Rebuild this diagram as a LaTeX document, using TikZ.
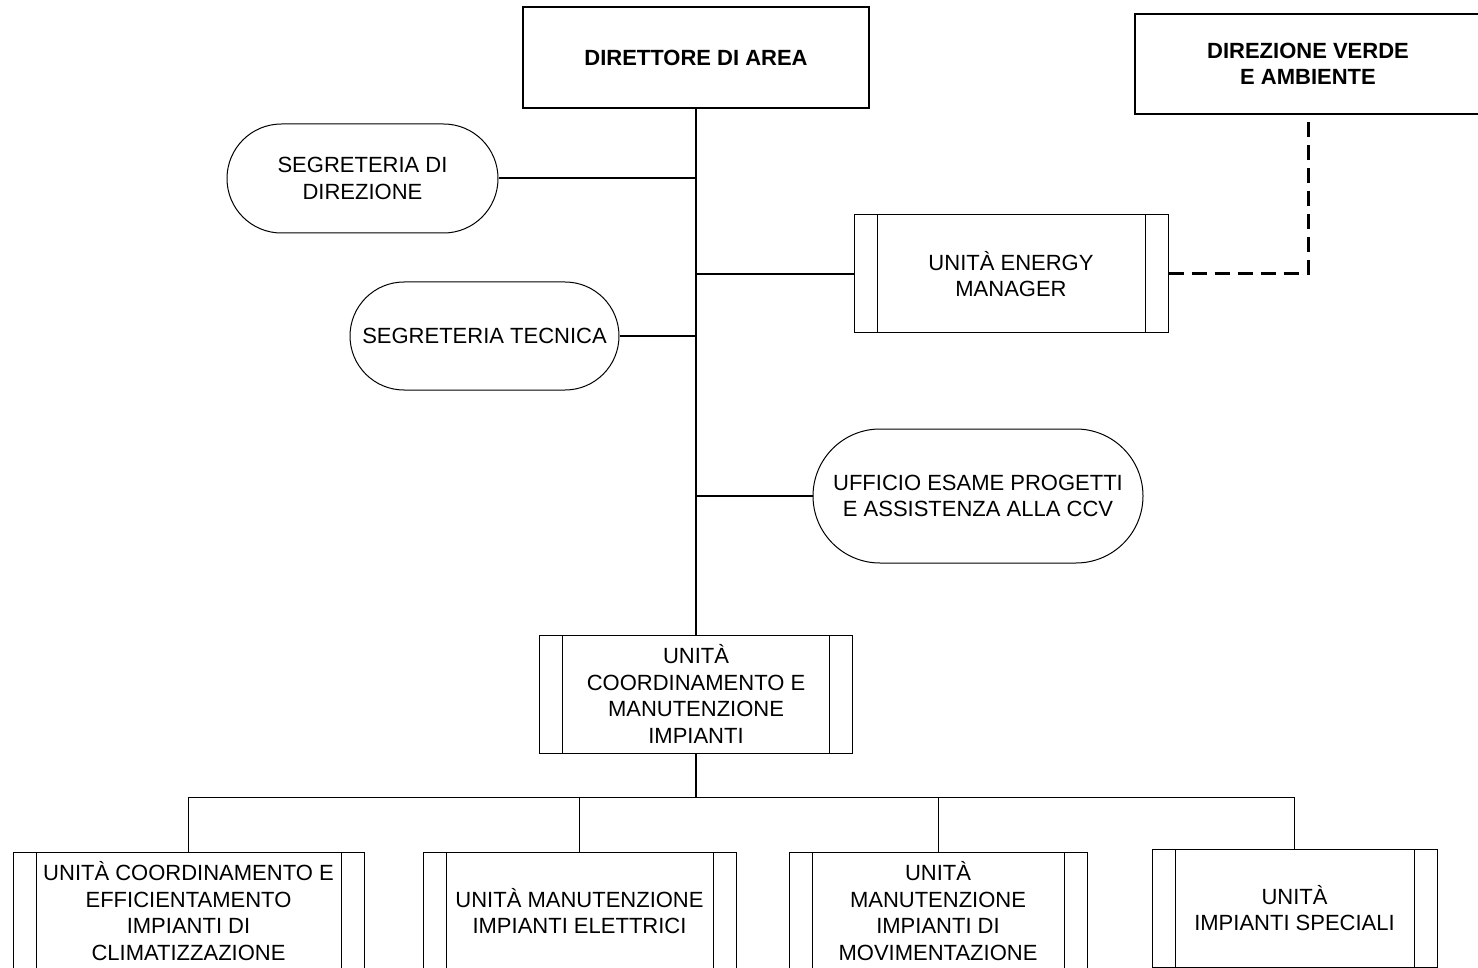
\documentclass[tikz,border=0pt]{standalone}
\usepackage{fontspec}
\setmainfont{Liberation Sans}
\begin{document}
\begin{tikzpicture}[x=0.5pt,y=-0.5pt,
  base/.style={draw, line width=0.5pt, align=center, fill=white, inner sep=0pt,
    font=\fontsize{11}{13.2}\selectfont},
  headbox/.style={base, line width=1pt, font=\bfseries\fontsize{11}{13.2}\selectfont},
  subbox/.style={base, minimum height=59pt, path picture={
    \draw[line width=0.5pt] ([xshift=11.5pt]path picture bounding box.north west) -- ([xshift=11.5pt]path picture bounding box.south west);
    \draw[line width=0.5pt] ([xshift=-11.5pt]path picture bounding box.north east) -- ([xshift=-11.5pt]path picture bounding box.south east);}},
  pill/.style={base, rounded corners=#1},
  link/.style={line width=1pt},
  thinlink/.style={line width=0.5pt},
  dashlink/.style={line width=1.5pt, dash pattern=on 7.5pt off 4pt}]
\useasboundingbox (0,0) rectangle (1478,968);
\clip (0,0) rectangle (1478,968);
\fill[white] (0,0) rectangle (1478,968);

% nodes
\node[headbox, minimum width=173pt, minimum height=50.5pt] (dir) at (696,57.5) {DIRETTORE DI AREA};
\node[headbox, minimum width=173pt, minimum height=50pt] (verde) at (1308,64) {DIREZIONE VERDE\\E AMBIENTE};
\node[pill=27.2pt, minimum width=135.5pt, minimum height=54.5pt] (seg1) at (362.5,178.5) {SEGRETERIA DI\\DIREZIONE};
\node[subbox, minimum width=157pt] (energy) at (1011,274) {UNITÀ ENERGY\\MANAGER};
\node[pill=27pt, minimum width=134.5pt, minimum height=54pt] (seg2) at (484.5,336) {SEGRETERIA TECNICA};
\node[pill=33.5pt, minimum width=165pt, minimum height=67pt] (uff) at (978,496) {UFFICIO ESAME PROGETTI\\E ASSISTENZA ALLA CCV};
\node[subbox, minimum width=156.5pt] (coord) at (696,694) {UNITÀ\\COORDINAMENTO E\\MANUTENZIONE\\IMPIANTI};
\node[subbox, minimum width=175.5pt] (b1) at (188.5,911) {UNITÀ COORDINAMENTO E\\EFFICIENTAMENTO\\IMPIANTI DI\\CLIMATIZZAZIONE};
\node[subbox, minimum width=156.5pt] (b2) at (579.5,911) {UNITÀ MANUTENZIONE\\IMPIANTI ELETTRICI};
\node[subbox, minimum width=149pt] (b3) at (938,911) {UNITÀ\\MANUTENZIONE\\IMPIANTI DI\\MOVIMENTAZIONE};
\node[subbox, minimum width=142.5pt] (b4) at (1294.5,908) {UNITÀ\\IMPIANTI SPECIALI};
\coordinate (bus) at (696,797);

% connectors
\draw[link] (dir.south) -- (coord.north);
\draw[link] (seg1.east) -- (seg1.east -| dir.south);
\draw[link] (energy.west) -- (energy.west -| dir.south);
\draw[link] (seg2.east) -- (seg2.east -| dir.south);
\draw[link] (uff.west) -- (uff.west -| dir.south);
\draw[dashlink] (energy.east) -| (verde.south);
\draw[link] (coord.south) -- (bus);
\draw[thinlink] (b1.north) |- (bus);
\draw[thinlink] (b2.north) |- (bus);
\draw[thinlink] (b3.north) |- (bus);
\draw[thinlink] (b4.north) |- (bus);
\end{tikzpicture}
\end{document}
